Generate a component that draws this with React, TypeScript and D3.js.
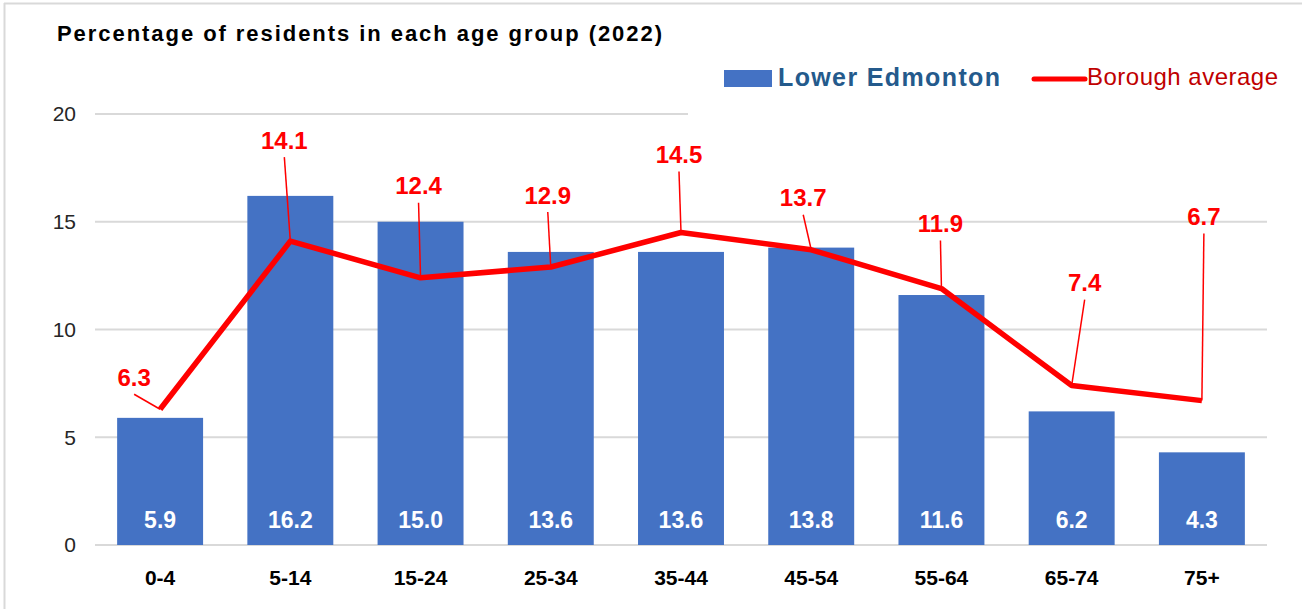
import * as d3 from 'd3';

const ageGroups = ['0-4', '5-14', '15-24', '25-34', '35-44', '45-54', '55-64', '65-74', '75+'];
const lowerEdmonton = [5.9, 16.2, 15.0, 13.6, 13.6, 13.8, 11.6, 6.2, 4.3];
const boroughAverage = [6.3, 14.1, 12.4, 12.9, 14.5, 13.7, 11.9, 7.4, 6.7];
const yTicks = [0, 5, 10, 15, 20];

// hand-placed label offsets (px) for the borough line, like moved Excel labels
const labelNudge: [number, number][] = [
  [-26, -32], [-6, -101], [-2, -92], [-3, -72], [-2, -78],
  [-8, -52], [-1, -65], [13, -103], [2, -184],
];

const W = 1302;
const H = 609;
const font = 'Liberation Sans, Arial, sans-serif';

export default function App() {
  const x = d3.scaleBand<string>()
    .domain(ageGroups)
    .range([95, 1267])
    .paddingInner(0.34)
    .paddingOuter(0.17);
  const y = d3.scaleLinear().domain([0, 20]).range([545, 114]);
  const cx = (d: string) => (x(d) ?? 0) + x.bandwidth() / 2;

  const line = d3.line<number>()
    .x((_, i) => cx(ageGroups[i]))
    .y(d => y(d));

  return (
    <svg width={W} height={H} style={{ position: 'absolute', left: 0, top: 0, background: '#fff' }} fontFamily={font}>
      <rect width={W} height={H} fill="#fff" />
      <line x1={4} x2={W} y1={3.5} y2={3.5} stroke="#d9d9d9" strokeWidth={2} />
      <line x1={4.5} x2={4.5} y1={3} y2={H} stroke="#d9d9d9" strokeWidth={2} />

      <text x={57} y={41} fontSize={22} fontWeight="bold" fill="#000" textLength={605} lengthAdjust="spacing">
        Percentage of residents in each age group (2022)
      </text>

      {yTicks.map(t => (
        <g key={t}>
          <line x1={95} x2={1267} y1={y(t)} y2={y(t)} stroke="#d9d9d9" strokeWidth={2} />
          <text x={76} y={y(t)} dy="0.35em" textAnchor="end" fontSize={21} fill="#262626">{t}</text>
        </g>
      ))}

      {/* legend box hides the top gridline on the right */}
      <rect x={688} y={55} width={600} height={62} fill="#fff" />
      <rect x={724} y={70} width={48} height={17} fill="#4472C4" />
      <text x={778} y={86} fontSize={25} fontWeight="bold" fill="#245A8C" textLength={222} lengthAdjust="spacing">
        Lower Edmonton
      </text>
      <line x1={1034} x2={1085} y1={79} y2={79} stroke="#FF0000" strokeWidth={5} strokeLinecap="round" />
      <text x={1087} y={85} fontSize={24} fill="#C00000" textLength={191} lengthAdjust="spacing">
        Borough average
      </text>

      {ageGroups.map((g, i) => (
        <g key={g}>
          <rect x={x(g)} y={y(lowerEdmonton[i])} width={x.bandwidth()} height={y(0) - y(lowerEdmonton[i])} fill="#4472C4" />
          <text x={cx(g)} y={528} textAnchor="middle" fontSize={23} fontWeight="bold" fill="#fff">
            {lowerEdmonton[i].toFixed(1)}
          </text>
          <text x={cx(g)} y={585} textAnchor="middle" fontSize={21} fontWeight="bold" fill="#000">{g}</text>
        </g>
      ))}

      {boroughAverage.map((v, i) => {
        const px = cx(ageGroups[i]);
        const py = y(v);
        const lx = px + labelNudge[i][0];
        const ly = py + labelNudge[i][1];
        return (
          <line key={'l' + i} x1={lx} y1={ly + 17} x2={px} y2={py} stroke="#FF0000" strokeWidth={1.5} />
        );
      })}

      <path d={line(boroughAverage) ?? ''} fill="none" stroke="#FF0000" strokeWidth={5.5} strokeLinejoin="round" />

      {boroughAverage.map((v, i) => {
        const px = cx(ageGroups[i]);
        const py = y(v);
        return (
          <text key={'t' + i} x={px + labelNudge[i][0]} y={py + labelNudge[i][1] + 8.5}
            textAnchor="middle" fontSize={24} fontWeight="bold" fill="#FF0000">
            {v.toFixed(1)}
          </text>
        );
      })}
    </svg>
  );
}
